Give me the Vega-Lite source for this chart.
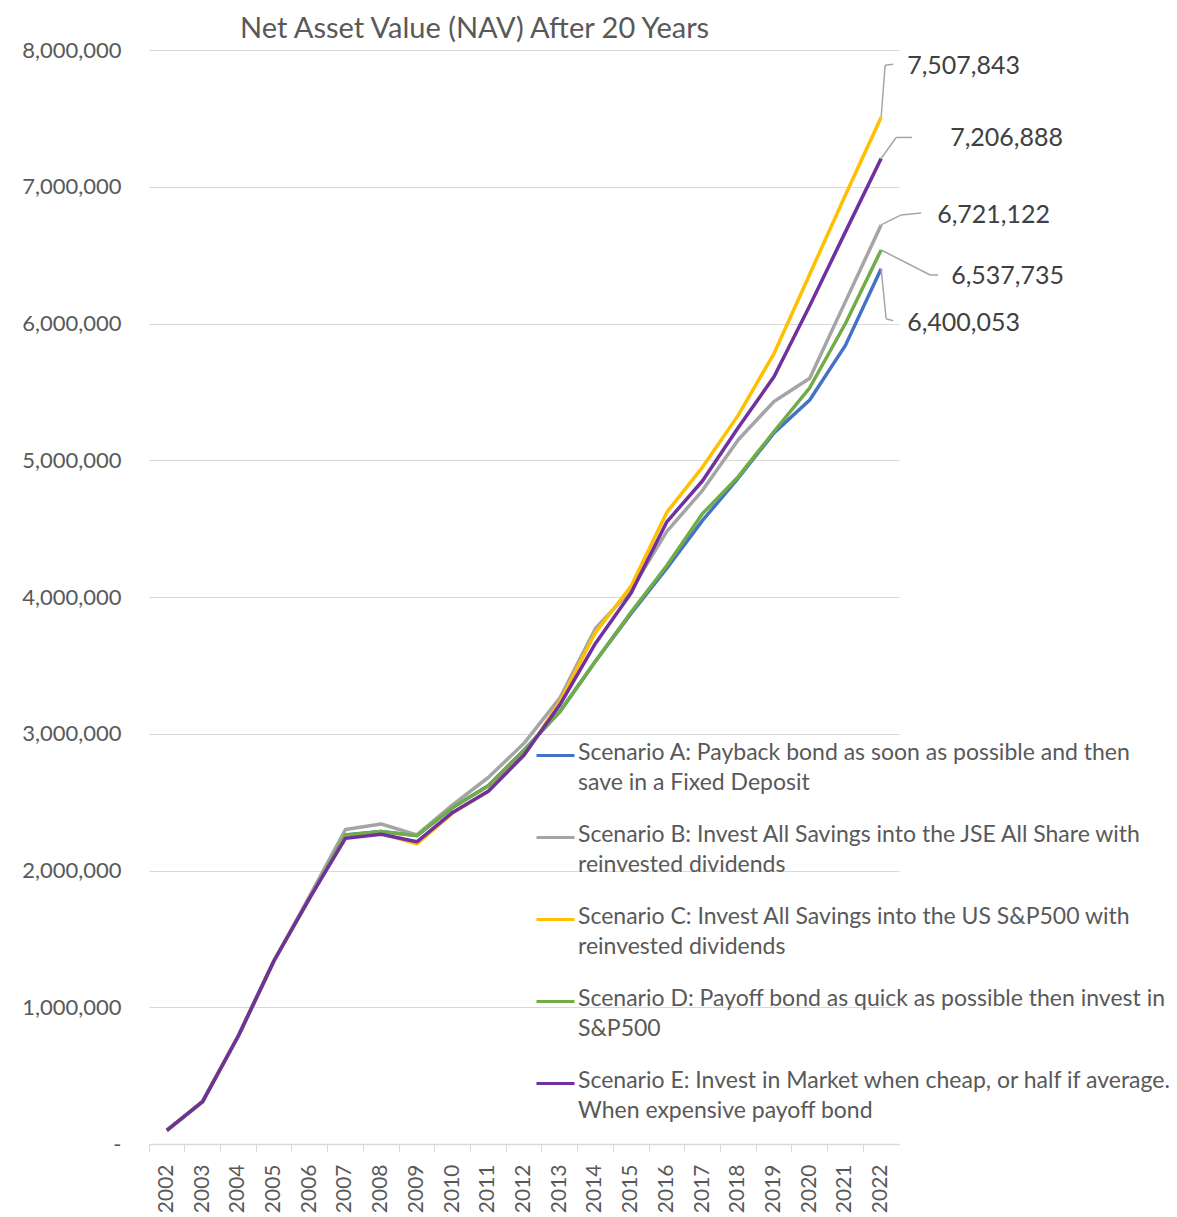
{
  "$schema": "https://vega.github.io/schema/vega-lite/v6.json",
  "width": 750,
  "height": 1094,
  "autosize": {"type": "none"},
  "padding": {"left": 149, "top": 50, "right": 278, "bottom": 73},
  "background": "white",
  "config": {"view": {"stroke": null}, "font": "Lato"},
  "title": {"text": "Net Asset Value (NAV) After 20 Years", "anchor": "start", "frame": "group", "dx": 91, "fontSize": 29, "fontWeight": "normal", "color": "#595959", "offset": -5},
  "data": {"values": [
    {"year": "2002", "A": 100000, "B": 100000, "C": 100000, "D": 100000, "E": 100000},
    {"year": "2003", "A": 310000, "B": 310000, "C": 310000, "D": 310000, "E": 310000},
    {"year": "2004", "A": 790000, "B": 790000, "C": 790000, "D": 790000, "E": 790000},
    {"year": "2005", "A": 1340000, "B": 1340000, "C": 1340000, "D": 1340000, "E": 1340000},
    {"year": "2006", "A": 1800000, "B": 1815000, "C": 1800000, "D": 1800000, "E": 1800000},
    {"year": "2007", "A": 2260000, "B": 2300000, "C": 2240000, "D": 2260000, "E": 2235000},
    {"year": "2008", "A": 2285000, "B": 2340000, "C": 2270000, "D": 2285000, "E": 2265000},
    {"year": "2009", "A": 2255000, "B": 2260000, "C": 2195000, "D": 2255000, "E": 2210000},
    {"year": "2010", "A": 2460000, "B": 2480000, "C": 2420000, "D": 2460000, "E": 2425000},
    {"year": "2011", "A": 2620000, "B": 2680000, "C": 2580000, "D": 2620000, "E": 2580000},
    {"year": "2012", "A": 2880000, "B": 2930000, "C": 2840000, "D": 2880000, "E": 2845000},
    {"year": "2013", "A": 3160000, "B": 3260000, "C": 3230000, "D": 3160000, "E": 3210000},
    {"year": "2014", "A": 3530000, "B": 3770000, "C": 3740000, "D": 3530000, "E": 3660000},
    {"year": "2015", "A": 3880000, "B": 4050000, "C": 4080000, "D": 3890000, "E": 4030000},
    {"year": "2016", "A": 4210000, "B": 4480000, "C": 4620000, "D": 4230000, "E": 4550000},
    {"year": "2017", "A": 4560000, "B": 4780000, "C": 4950000, "D": 4610000, "E": 4850000},
    {"year": "2018", "A": 4870000, "B": 5150000, "C": 5330000, "D": 4880000, "E": 5240000},
    {"year": "2019", "A": 5200000, "B": 5430000, "C": 5780000, "D": 5210000, "E": 5610000},
    {"year": "2020", "A": 5440000, "B": 5600000, "C": 6360000, "D": 5530000, "E": 6130000},
    {"year": "2021", "A": 5840000, "B": 6160000, "C": 6940000, "D": 6000000, "E": 6670000},
    {"year": "2022", "A": 6400053, "B": 6721122, "C": 7507843, "D": 6537735, "E": 7206888}
  ]},
  "transform": [{"fold": ["A", "B", "C", "D", "E"], "as": ["scenario", "value"]}],
  "encoding": {
    "x": {
      "field": "year", "type": "ordinal", "bandPosition": 0.5,
      "scale": {"type": "band", "paddingInner": 0, "paddingOuter": 0},
      "axis": {"title": null, "labelAngle": 270, "labelAlign": "right", "labelBaseline": "middle", "labelFontSize": 21, "labelColor": "#595959", "labelPadding": 12, "bandPosition": 0, "ticks": true, "tickSize": 8, "tickColor": "#D9D9D9", "domainColor": "#D9D9D9", "domainWidth": 1.5, "grid": false}
    },
    "y": {
      "field": "value", "type": "quantitative",
      "scale": {"domain": [0, 8000000], "nice": false},
      "axis": {"title": null, "values": [0, 1000000, 2000000, 3000000, 4000000, 5000000, 6000000, 7000000, 8000000], "labelExpr": "datum.value == 0 ? '-' : format(datum.value, ',')", "labelFontSize": 22, "labelColor": "#595959", "labelPadding": 28, "ticks": false, "domain": false, "grid": true, "gridColor": "#D9D9D9", "gridWidth": 1.2}
    }
  },
  "layer": [
    {
      "mark": {"type": "line", "strokeWidth": 3.5, "strokeJoin": "round"},
      "encoding": {
        "color": {
          "field": "scenario", "type": "nominal",
          "scale": {"domain": ["A", "B", "C", "D", "E"], "range": ["#4472C4", "#A5A5A5", "#FFC000", "#70AD47", "#7030A0"]},
          "legend": {
            "orient": "none", "legendX": 386, "legendY": 685, "title": null,
            "symbolType": "stroke", "symbolSize": 1444, "symbolStrokeWidth": 3,
            "labelFontSize": 23, "labelColor": "#595959", "labelLimit": 0, "labelOffset": 2,
            "rowPadding": 22, "labelBaseline": "top",
            "labelExpr": "datum.label == 'A' ? ['Scenario A: Payback bond as soon as possible and then', 'save in a Fixed Deposit'] : datum.label == 'B' ? ['Scenario B: Invest All Savings into the JSE All Share with', 'reinvested dividends'] : datum.label == 'C' ? ['Scenario C: Invest All Savings into the US S&P500 with', 'reinvested dividends'] : datum.label == 'D' ? ['Scenario D: Payoff bond as quick as possible then invest in', 'S&P500'] : ['Scenario E: Invest in Market when cheap, or half if average.', 'When expensive payoff bond']",
            "encode": {"labels": {"update": {"lineHeight": {"value": 30}, "dy": {"value": -14}}}}
          }
        }
      }
    },
    {
      "transform": [{"filter": "datum.year == '2022' && datum.scenario == 'C'"}],
      "layer": [
        {"mark": {"type": "text", "align": "left", "baseline": "middle", "dx": 26, "dy": -51, "fontSize": 25, "color": "#404040"}, "encoding": {"text": {"field": "value", "format": ","}}},
        {"mark": {"type": "rule", "color": "#A6A6A6", "strokeWidth": 1.5, "x2Offset": 4, "y2Offset": -52}, "encoding": {"x2": {"field": "year", "bandPosition": 0.5}, "y2": {"field": "value"}}},
        {"mark": {"type": "rule", "color": "#A6A6A6", "strokeWidth": 1.5, "xOffset": 4, "yOffset": -52, "x2Offset": 12, "y2Offset": -53}, "encoding": {"x2": {"field": "year", "bandPosition": 0.5}, "y2": {"field": "value"}}}
      ]
    },
    {
      "transform": [{"filter": "datum.year == '2022' && datum.scenario == 'E'"}],
      "layer": [
        {"mark": {"type": "text", "align": "left", "baseline": "middle", "dx": 69, "dy": -20, "fontSize": 25, "color": "#404040"}, "encoding": {"text": {"field": "value", "format": ","}}},
        {"mark": {"type": "rule", "color": "#A6A6A6", "strokeWidth": 1.5, "x2Offset": 15, "y2Offset": -21}, "encoding": {"x2": {"field": "year", "bandPosition": 0.5}, "y2": {"field": "value"}}},
        {"mark": {"type": "rule", "color": "#A6A6A6", "strokeWidth": 1.5, "xOffset": 15, "yOffset": -21, "x2Offset": 31, "y2Offset": -21}, "encoding": {"x2": {"field": "year", "bandPosition": 0.5}, "y2": {"field": "value"}}}
      ]
    },
    {
      "transform": [{"filter": "datum.year == '2022' && datum.scenario == 'B'"}],
      "layer": [
        {"mark": {"type": "text", "align": "left", "baseline": "middle", "dx": 56, "dy": -10, "fontSize": 25, "color": "#404040"}, "encoding": {"text": {"field": "value", "format": ","}}},
        {"mark": {"type": "rule", "color": "#A6A6A6", "strokeWidth": 1.5, "x2Offset": 20, "y2Offset": -10}, "encoding": {"x2": {"field": "year", "bandPosition": 0.5}, "y2": {"field": "value"}}},
        {"mark": {"type": "rule", "color": "#A6A6A6", "strokeWidth": 1.5, "xOffset": 20, "yOffset": -10, "x2Offset": 40, "y2Offset": -12}, "encoding": {"x2": {"field": "year", "bandPosition": 0.5}, "y2": {"field": "value"}}}
      ]
    },
    {
      "transform": [{"filter": "datum.year == '2022' && datum.scenario == 'D'"}],
      "layer": [
        {"mark": {"type": "text", "align": "left", "baseline": "middle", "dx": 70, "dy": 26, "fontSize": 25, "color": "#404040"}, "encoding": {"text": {"field": "value", "format": ","}}},
        {"mark": {"type": "rule", "color": "#A6A6A6", "strokeWidth": 1.5, "x2Offset": 49, "y2Offset": 25}, "encoding": {"x2": {"field": "year", "bandPosition": 0.5}, "y2": {"field": "value"}}},
        {"mark": {"type": "rule", "color": "#A6A6A6", "strokeWidth": 1.5, "xOffset": 49, "yOffset": 25, "x2Offset": 57, "y2Offset": 25}, "encoding": {"x2": {"field": "year", "bandPosition": 0.5}, "y2": {"field": "value"}}}
      ]
    },
    {
      "transform": [{"filter": "datum.year == '2022' && datum.scenario == 'A'"}],
      "layer": [
        {"mark": {"type": "text", "align": "left", "baseline": "middle", "dx": 26, "dy": 54, "fontSize": 25, "color": "#404040"}, "encoding": {"text": {"field": "value", "format": ","}}},
        {"mark": {"type": "rule", "color": "#A6A6A6", "strokeWidth": 1.5, "x2Offset": 5, "y2Offset": 50}, "encoding": {"x2": {"field": "year", "bandPosition": 0.5}, "y2": {"field": "value"}}},
        {"mark": {"type": "rule", "color": "#A6A6A6", "strokeWidth": 1.5, "xOffset": 5, "yOffset": 50, "x2Offset": 12, "y2Offset": 52}, "encoding": {"x2": {"field": "year", "bandPosition": 0.5}, "y2": {"field": "value"}}}
      ]
    }
  ]
}
